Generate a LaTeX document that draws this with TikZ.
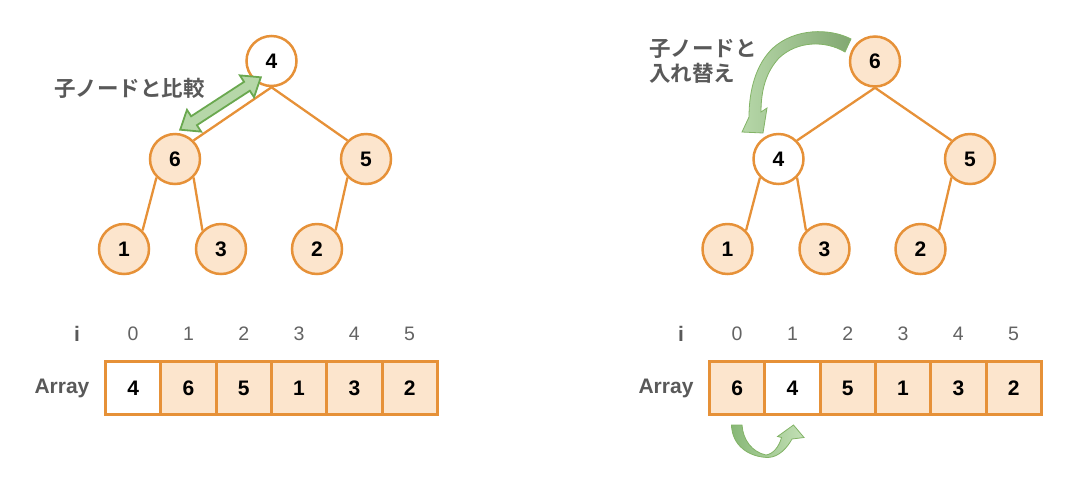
\documentclass[tikz,border=0pt]{standalone}
\usepackage{fontspec}
\setmainfont{Liberation Sans}
\newfontfamily\cjk{Noto Sans CJK JP}[BoldFont={Noto Sans CJK JP Bold}]
\usetikzlibrary{calc,backgrounds}
\definecolor{orst}{HTML}{E69138}
\definecolor{orfill}{HTML}{FCE5CD}
\definecolor{txtgray}{HTML}{595959}
\definecolor{idxgray}{HTML}{636363}
\definecolor{grfill}{HTML}{B6D7A8}
\definecolor{grdark}{HTML}{6AA84F}
\definecolor{grmid}{HTML}{82B366}
\definecolor{grtail}{HTML}{82A872}
\definecolor{grlight}{HTML}{C3E0B6}
\definecolor{grleft}{HTML}{88B877}
\begin{document}
\begin{tikzpicture}[x=1pt,y=-1pt,
  tnode/.style={circle, draw=orst, line width=2.5pt, fill=orfill, minimum size=50pt, inner sep=0pt,
    font=\fontsize{21}{21}\selectfont\bfseries},
  wnode/.style={tnode, fill=white},
  tedge/.style={draw=orst, line width=2.3pt},
  cell/.style={draw=orst, line width=3pt, fill=orfill, minimum width=55.3pt, minimum height=53pt, inner sep=0pt,
    font=\fontsize{21}{21}\selectfont\bfseries},
  wcell/.style={cell, fill=white},
  idx/.style={font=\fontsize{19.5}{19.5}\selectfont, text=idxgray, inner sep=0pt},
  lab/.style={font=\fontsize{21}{21}\selectfont\bfseries, text=txtgray, inner sep=0pt},
  jlab/.style={font=\cjk\bfseries\fontsize{21.5}{25}\selectfont, text=txtgray, align=left, inner sep=0pt},
  blockarrow/.style={draw=grmid, line width=0.8pt},
]
\useasboundingbox (0,0) rectangle (1091,491);

% ---------- left tree ----------
\node[wnode] (la) at (271.5,61) {4};
\node[tnode] (lb) at (175,159) {6};
\node[tnode] (lc) at (366,159) {5};
\node[tnode] (ld) at (124,249) {1};
\node[tnode] (le) at (221,249) {3};
\node[tnode] (lf) at (317,249) {2};

% ---------- right tree ----------
\node[tnode] (ra) at (875,61.5) {6};
\node[wnode] (rb) at (778.5,159) {4};
\node[tnode] (rc) at (970,159) {5};
\node[tnode] (rd) at (727.5,249) {1};
\node[tnode] (re) at (824.5,249) {3};
\node[tnode] (rf) at (920.5,249) {2};

\begin{scope}[on background layer]
  \draw[tedge] (la.south) -- (lb.north east);
  \draw[tedge] (la.south) -- (lc.north west);
  \draw[tedge] (lb.south west) -- (ld.north east);
  \draw[tedge] (lb.south east) -- (le.north west);
  \draw[tedge] (lc.south west) -- (lf.north east);
  \draw[tedge] (ra.south) -- (rb.north east);
  \draw[tedge] (ra.south) -- (rc.north west);
  \draw[tedge] (rb.south west) -- (rd.north east);
  \draw[tedge] (rb.south east) -- (re.north west);
  \draw[tedge] (rc.south west) -- (rf.north east);
\end{scope}

% ---------- left array ----------
\node[lab] (li) at (77,334) {i};
\node[lab] (larr) at (62,388) {Array};
\foreach \k/\v/\s in {0/4/wcell,1/6/cell,2/5/cell,3/1/cell,4/3/cell,5/2/cell}{
  \node[\s] (lcell\k) at ({105.5+55.3*(\k+0.5)},388) {\v};
  \node[idx] (lidx\k) at ({105.5+55.3*(\k+0.5)},334) {\k};
}

% ---------- right array ----------
\node[lab] (ri) at (681,334) {i};
\node[lab] (rarr) at (666,388) {Array};
\foreach \k/\v/\s in {0/6/cell,1/4/wcell,2/5/cell,3/1/cell,4/3/cell,5/2/cell}{
  \node[\s] (rcell\k) at ({709.5+55.3*(\k+0.5)},388) {\v};
  \node[idx] (ridx\k) at ({709.5+55.3*(\k+0.5)},334) {\k};
}

% ---------- labels ----------
\node[jlab] (cmp) at (129.5,88) {子ノードと比較};
\node[jlab, anchor=west] (swp) at (649,61.5) {子ノードと\\入れ替え};

% ---------- double arrow (compare) ----------
\draw[draw=grdark, line width=1.8pt, fill=grfill, line join=miter, shift={(-1.5,-2)}]
  (181.7,131.7) -- (202.63,133.62) -- (198.43,127.16) -- (251.35,92.74) -- (255.55,99.2)
  -- (262.3,79.3) -- (241.37,77.38) -- (245.57,83.84) -- (192.65,118.26) -- (188.45,111.8) -- cycle;

% ---------- curved swap arrow (tree) ----------
\draw[blockarrow, left color=grfill, right color=grtail]
  (851,39) .. controls (830,28) and (795,28) .. (773,48)
  .. controls (756,64) and (749,90) .. (749,117)
  -- (742,132) -- (763,133) -- (767,108) -- (761,112)
  .. controls (761,90) and (766,72) .. (779,58)
  .. controls (797,41) and (825,40) .. (845,52) -- cycle;

% ---------- curved swap arrow (array) ----------
\draw[blockarrow, left color=grleft, right color=grlight]
  (731.5,425) .. controls (732,445) and (748,457) .. (768,457.5)
  .. controls (779,457) and (787,448) .. (792,439)
  -- (804,437.5) -- (793.5,425) -- (777.5,436.5) -- (781.5,437.5)
  .. controls (779,447) and (773,454) .. (766,455)
  .. controls (752,452) and (743,440) .. (742,425) -- cycle;
\end{tikzpicture}
\end{document}
